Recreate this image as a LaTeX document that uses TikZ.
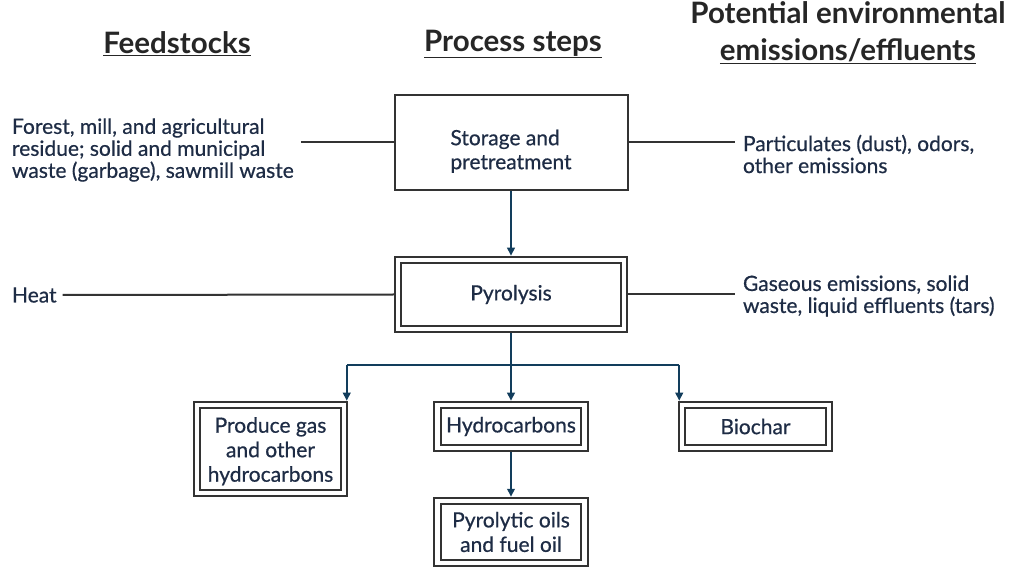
\documentclass[tikz,border=0pt]{standalone}
\usepackage{fontspec}
\setmainfont{Lato}
\newfontfamily\bodyfont{Lato}[FakeBold=0.6]
\usetikzlibrary{arrows.meta}
\definecolor{txt}{HTML}{1E2C45}
\definecolor{edge}{HTML}{333333}
\definecolor{flow}{HTML}{123D5C}
\begin{document}
\begin{tikzpicture}[x=1pt,y=-1pt,
  every node/.style={text=txt, font=\bodyfont\fontsize{21}{22}\selectfont},
  title/.style={font=\fontsize{29.5}{37}\selectfont\bfseries, text=black!85, align=center, inner sep=0pt},
  label/.style={align=left, inner sep=0pt, outer xsep=8pt},
  single/.style={draw=edge, line width=2pt, inner sep=0pt, align=left,
                 font=\bodyfont\fontsize{21}{24}\selectfont},
  dbl/.style={draw=edge, line width=2pt, double=white, double distance=4.5pt,
              inner sep=0pt, outer sep=4.25pt, align=center,
              font=\bodyfont\fontsize{21}{24.5}\selectfont},
  link/.style={draw=edge, line width=2pt},
  flowarrow/.style={draw=flow, line width=2pt, -{Triangle[length=8pt,width=7.5pt]}},
  flowline/.style={draw=flow, line width=2pt}
]
\useasboundingbox (0,0) rectangle (1010,569);

% column headings
\node[title] (hfeed) at (177,44) {\underline{Feedstocks}};
\node[title] (hproc) at (513,44) {\underline{Process steps}};
\node[title] (hemis) at (848,33) {Potential environmental\\\underline{emissions/effluents}};

% process boxes (the strut in the first line drops the storage text a little)
\node[single, minimum width=233pt, minimum height=95pt] (store) at (511,142.5)
  {\rule{0pt}{33pt}Storage and\\pretreatment};
\node[dbl, minimum width=226pt, minimum height=69pt] (pyro) at (511,294.5)
  {Pyrolysis};
\node[dbl, minimum width=147pt, minimum height=88pt] (prod) at (270.5,449)
  {\rule{0pt}{20pt}Produce gas\\and other\\hydrocarbons};
\node[dbl, minimum width=147pt, minimum height=43pt] (hydro) at (511,426.5)
  {Hydrocarbons};
\node[dbl, minimum width=147pt, minimum height=62pt] (oil) at (511,532)
  {Pyrolytic oils\\and fuel oil};
\node[dbl, minimum width=147pt, minimum height=43pt] (bio) at (755.5,426.5)
  {Biochar};

% inputs and emissions
\node[label, anchor=west, outer xsep=0pt] (feed) at (12,150)
  {Forest, mill, and agricultural\\residue; solid and municipal\\waste (garbage), sawmill waste};
\node[label, anchor=west, outer xsep=0pt] (heat) at (12,295) {Heat};
\node[label, anchor=west] (dust) at (735,154)
  {Particulates (dust), odors,\\other emissions};
\node[label, anchor=west] (gas) at (735,296)
  {Gaseous emissions, solid\\waste, liquid effluents (tars)};

\draw[link] ([xshift=7pt]feed.east |- store.west) -- (store.west);
\draw[link] ([xshift=6pt]heat.east) -- (pyro.west);
\draw[link] (store.east) -- (dust.west |- store.east);
\draw[link] (pyro.east) -- (gas.west |- pyro.east);

% flow
\draw[flowarrow] (store.south) -- (pyro.north);
\coordinate (split) at ([yshift=-32pt]pyro.south);
\draw[flowline] (pyro.south) -- (split);
\draw[flowline] ([xshift=-1.5pt]prod.north east |- split) -- ([xshift=1.5pt]bio.north west |- split);
\draw[flowarrow] ([xshift=-1.5pt]prod.north east |- split) -- ([xshift=-1.5pt]prod.north east);
\draw[flowarrow] (split) -- (hydro.north);
\draw[flowarrow] ([xshift=1.5pt]bio.north west |- split) -- ([xshift=1.5pt]bio.north west);
\draw[flowarrow] (hydro.south) -- (oil.north);
\end{tikzpicture}
\end{document}
